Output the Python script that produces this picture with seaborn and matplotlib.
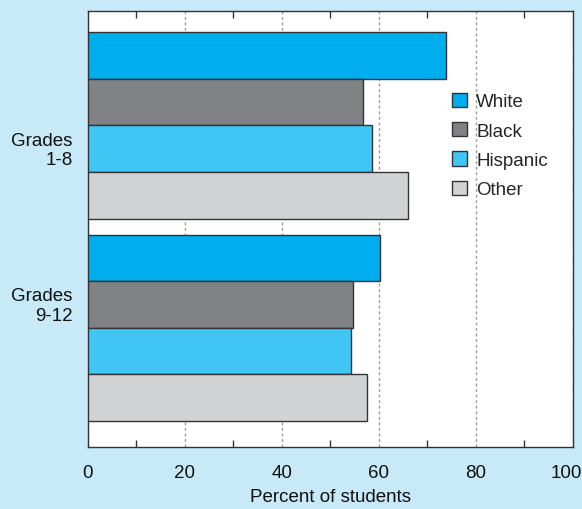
import pandas as pd
import matplotlib
matplotlib.use("Agg")
import matplotlib.pyplot as plt
import matplotlib.transforms as mtransforms
import seaborn as sns

# data
grades = ["Grades\n1-8", "Grades\n9-12"]
races = ["White", "Black", "Hispanic", "Other"]
white = [73.8, 60.2]
black = [56.7, 54.6]
hispanic = [58.6, 54.2]
other = [66.0, 57.5]
colors = ["#00aeef", "#808285", "#3fc6f4", "#d1d3d4"]

df = pd.DataFrame({
    "grade": grades * 4,
    "race": [r for r in races for _ in grades],
    "pct": white + black + hispanic + other,
})

sns.set_style("white")
plt.rcParams["font.family"] = ["Liberation Sans", "DejaVu Sans"]

bg = "#c7e9f8"
fs = 13.5
fig = plt.figure(figsize=(5.82, 5.10), dpi=100, facecolor=bg)
ax = fig.add_axes([0.1512, 0.1216, 0.8333, 0.855])
ax.set_facecolor("white")

sns.barplot(data=df, x="pct", y="grade", hue="race", orient="h",
            palette=colors, saturation=1, edgecolor="#333333", linewidth=1.0,
            width=0.92, ax=ax, zorder=3)

ax.set_xlim(0, 100)
ax.set_ylim(1.588, -0.565)
ax.set_xticks([0, 20, 40, 60, 80, 100])
ax.set_xticks([10, 30, 50, 70, 90], minor=True)
ax.tick_params(axis="x", which="major", length=0, pad=12, labelsize=fs,
               labelcolor="#111111")
ax.tick_params(axis="x", which="minor", direction="in", length=5,
               width=1, color="#333333", top=True, bottom=True)
ax.set_yticks([0.106, 0.872], grades, ha="right", fontsize=fs, color="#111111")
ax.tick_params(axis="y", length=0, pad=11)
ax.grid(axis="x", which="major", linestyle=(0, (2, 2)), color="#9a9a9a",
        linewidth=1, zorder=0)
ax.set_axisbelow(True)
ax.set_xlabel("Percent of students", fontsize=fs, labelpad=5, color="#111111")
ax.set_ylabel("")
for s in ax.spines.values():
    s.set_color("#333333")
    s.set_linewidth(1)

# pull the "100" label in a little so it stays on the canvas
last = ax.get_xticklabels()[-1]
last.set_transform(last.get_transform() +
                   mtransforms.ScaledTranslation(-7 / 100, 0, fig.dpi_scale_trans))

h, l = ax.get_legend_handles_labels()
ax.legend(h, l, frameon=False, loc="upper left", bbox_to_anchor=(0.735, 0.83),
          handlelength=0.8, handleheight=0.8, handletextpad=0.5,
          labelspacing=0.62, fontsize=fs, borderaxespad=0)

fig.savefig("out.png", dpi=100, facecolor=bg)
